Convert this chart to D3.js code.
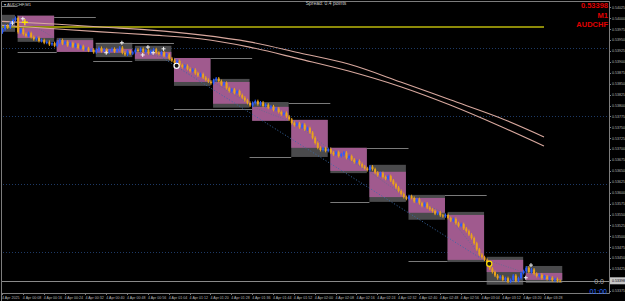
<!DOCTYPE html>
<html>
<head>
<meta charset="utf-8">
<title>AUDCHF M1</title>
<script src="https://cdn.jsdelivr.net/npm/d3@7"></script>
<style>
  body { margin: 0; background: #000; }
  svg { display: block; font-family: "Liberation Sans", "DejaVu Sans", sans-serif; }
  .axisText { fill: #b8b8b8; font-size: 3.6px; }
</style>
</head>
<body>
<svg width="625" height="301"></svg>
<script>
// ---- data ----
var firstOpen = 0.53968;
var closes = [
  0.53975, 0.53983, 0.53979, 0.53990, 0.53996, 0.54001,
  0.53968, 0.53975, 0.53964, 0.53960, 0.53966, 0.53957, 0.53952, 0.53955, 0.53948, 0.53950, 0.53944, 0.53946, 0.53940, 0.53943, 0.53937,
  0.53945, 0.53950, 0.53942, 0.53946, 0.53938, 0.53943, 0.53935, 0.53940, 0.53932, 0.53936, 0.53929, 0.53931, 0.53926, 0.53928, 0.53922,
  0.53927, 0.53932, 0.53925, 0.53929, 0.53922, 0.53926, 0.53930, 0.53924, 0.53928, 0.53933, 0.53921, 0.53917, 0.53924, 0.53919, 0.53922,
  0.53928, 0.53925, 0.53930, 0.53923, 0.53927, 0.53920, 0.53925, 0.53929, 0.53921, 0.53918, 0.53922, 0.53914, 0.53917, 0.53908, 0.53903,
  0.53898, 0.53902, 0.53893, 0.53888, 0.53891, 0.53884, 0.53879, 0.53882, 0.53874, 0.53869, 0.53872, 0.53864, 0.53859, 0.53855, 0.53851,
  0.53858, 0.53862, 0.53856, 0.53848, 0.53852, 0.53840, 0.53833, 0.53837, 0.53829, 0.53833, 0.53824, 0.53818, 0.53812, 0.53806, 0.53800,
  0.53806, 0.53810, 0.53803, 0.53807, 0.53799, 0.53802, 0.53795, 0.53798, 0.53790, 0.53793, 0.53785, 0.53780, 0.53783, 0.53775, 0.53768,
  0.53760, 0.53755, 0.53759, 0.53750, 0.53756, 0.53745, 0.53748, 0.53738, 0.53726, 0.53714, 0.53703, 0.53698, 0.53702, 0.53696, 0.53700,
  0.53692, 0.53688, 0.53693, 0.53684, 0.53688, 0.53692, 0.53680, 0.53684, 0.53676, 0.53670, 0.53673, 0.53666, 0.53660, 0.53656, 0.53652,
  0.53660, 0.53654, 0.53646, 0.53640, 0.53645, 0.53636, 0.53632, 0.53638, 0.53628, 0.53620, 0.53612, 0.53604, 0.53597, 0.53590, 0.53586,
  0.53592, 0.53588, 0.53580, 0.53585, 0.53576, 0.53570, 0.53575, 0.53566, 0.53562, 0.53558, 0.53552, 0.53555, 0.53548, 0.53546, 0.53549,
  0.53542, 0.53536, 0.53540, 0.53530, 0.53524, 0.53528, 0.53518, 0.53512, 0.53504, 0.53496, 0.53484, 0.53470, 0.53458, 0.53452, 0.53446,
  0.53440, 0.53426, 0.53418, 0.53410, 0.53404, 0.53408, 0.53400, 0.53404, 0.53396, 0.53400, 0.53410, 0.53398, 0.53404, 0.53416, 0.53420,
  0.53428, 0.53418, 0.53424, 0.53414, 0.53409, 0.53412, 0.53404, 0.53408, 0.53402, 0.53405, 0.53399, 0.53402, 0.53398, 0.53398
];
var lastPrice = 0.53398;

// session boxes (15 bars each)
var boxStart   = [-9, 6, 21, 36, 51, 66, 81, 96, 111, 126, 141, 156, 171, 186, 201];
var boxTop     = [0.54008, 0.54006, 0.53955, 0.53944, 0.53937, 0.53909, 0.53861, 0.53808, 0.53767, 0.53703, 0.53664, 0.53595, 0.53556, 0.53453, 0.53432];
var boxBottom  = [0.53969, 0.53946, 0.53923, 0.53911, 0.53902, 0.53845, 0.53795, 0.53765, 0.53682, 0.53645, 0.53579, 0.53538, 0.53441, 0.53389, 0.53393];
var pinkTop    = [null, 0.54006, 0.53950, 0.53930, 0.53923, 0.53909, 0.53854, 0.53797, 0.53767, 0.53703, 0.53648, 0.53588, 0.53549, 0.53446, 0.53416];
var pinkBottom = [null, 0.53955, 0.53923, 0.53921, 0.53907, 0.53854, 0.53804, 0.53765, 0.53703, 0.53650, 0.53590, 0.53554, 0.53446, 0.53418, 0.53400];

// gray level segments
var segFrom  = [-1, 20, 6, 36, 35, 80, 66, 95, 110, 126, 140, 156, 170];
var segTo    = [6, 36, 21, 66, 50, 96, 96, 111, 126, 141, 156, 171, 186];
var segPrice = [0.54028, 0.54003, 0.53923, 0.53944, 0.53902, 0.53909, 0.53792, 0.53682, 0.53806, 0.53579, 0.53703, 0.53443, 0.53595];

// dotted horizontal levels, yellow line, trend line
var dottedLevels = [0.53932, 0.53776, 0.53620, 0.53464];
var yellowLevel = 0.53980, yellowEnd = 208;
var trendBars = [57, 186], trendPrices = [0.53927, 0.53441];

// two moving averages
var maBars = [0, 20, 38, 57, 76, 95, 114, 133, 153, 172, 191, 208];
var maUpper = [0.53993, 0.53987, 0.53980, 0.53973, 0.53962, 0.53946, 0.53921, 0.53895, 0.53854, 0.53813, 0.53772, 0.53728];
var maLower = [0.53984, 0.53976, 0.53969, 0.53962, 0.53953, 0.53934, 0.53907, 0.53879, 0.53843, 0.53801, 0.53753, 0.53707];

// signal markers
var crossBars   = [4, 8, 40, 46, 54, 56, 58, 62, 203, 201];
var crossPrices = [0.53989, 0.53999, 0.53921, 0.53944, 0.53916, 0.53934, 0.53921, 0.53930, 0.53434, 0.53405];
var ringBars = [67, 187], ringPrices = [0.53891, 0.53437], ringColors = ["#ffffff", "#ffe000"];

// axes
var priceTicks = [0.53375, 0.53400, 0.53425, 0.53450, 0.53475, 0.53500, 0.53525, 0.53550, 0.53575,
  0.53600, 0.53625, 0.53650, 0.53675, 0.53700, 0.53725, 0.53750, 0.53775, 0.53800, 0.53825,
  0.53850, 0.53875, 0.53900, 0.53925, 0.53950, 0.53975, 0.54000, 0.54025];
var timeLabels = ["4 Apr 2025", "4 Apr 00:08", "4 Apr 00:16", "4 Apr 00:24", "4 Apr 00:32", "4 Apr 00:40",
  "4 Apr 00:48", "4 Apr 00:56", "4 Apr 01:04", "4 Apr 01:12", "4 Apr 01:20", "4 Apr 01:28", "4 Apr 01:36",
  "4 Apr 01:44", "4 Apr 01:52", "4 Apr 02:00", "4 Apr 02:08", "4 Apr 02:16", "4 Apr 02:24", "4 Apr 02:32",
  "4 Apr 02:40", "4 Apr 02:48", "4 Apr 02:56", "4 Apr 03:04", "4 Apr 03:12", "4 Apr 03:20", "4 Apr 03:28"];
var timeBars = timeLabels.map(function(d, i) { return i * 8; });

// ---- drawing ----
var svg = d3.select("svg");
var plotRight = 609, plotBottom = 293;

var x = d3.scaleLinear().domain([0, 208]).range([2, 544]);
var y = d3.scaleLinear().domain([0.53370, 0.54042]).range([plotBottom, 0]);

svg.append("rect").attr("width", 625).attr("height", 301).attr("fill", "#000");

var plot = svg.append("g");
plot.append("clipPath").attr("id", "clip")
  .append("rect").attr("x", 1).attr("y", 1).attr("width", plotRight - 1).attr("height", plotBottom - 1);
var g = plot.append("g").attr("clip-path", "url(#clip)");

// dotted horizontal levels
g.selectAll("line.dlev").data(dottedLevels).enter().append("line")
  .attr("x1", 0).attr("x2", plotRight)
  .attr("y1", function(d) { return Math.round(y(d)) + 0.5; })
  .attr("y2", function(d) { return Math.round(y(d)) + 0.5; })
  .attr("stroke", "#1e3a66").attr("stroke-dasharray", "1,2");

// boxes
var boxW = x(14) - x(0);
boxStart.forEach(function(s, i) {
  g.append("rect")
    .attr("x", x(s)).attr("y", y(boxTop[i]))
    .attr("width", boxW).attr("height", y(boxBottom[i]) - y(boxTop[i]))
    .attr("fill", "#4a4a4c");
  if (pinkTop[i] !== null) {
    g.append("rect")
      .attr("x", x(s)).attr("y", y(pinkTop[i]))
      .attr("width", boxW).attr("height", y(pinkBottom[i]) - y(pinkTop[i]))
      .attr("fill", "#a05a8e");
    g.append("line")
      .attr("x1", x(s)).attr("y1", y(pinkTop[i]))
      .attr("x2", x(s) + boxW).attr("y2", y(pinkBottom[i]))
      .attr("stroke", "#6e6890").attr("stroke-dasharray", "1,1.5");
  }
});

// gray level segments
segFrom.forEach(function(f, i) {
  var yy = Math.round(y(segPrice[i])) + 0.5;
  g.append("line").attr("x1", x(f)).attr("x2", x(segTo[i]))
    .attr("y1", yy).attr("y2", yy)
    .attr("stroke", "#7a7a7a");
});

// trend line
g.append("line")
  .attr("x1", x(trendBars[0])).attr("y1", y(trendPrices[0]))
  .attr("x2", x(trendBars[1])).attr("y2", y(trendPrices[1]))
  .attr("stroke", "#3a6aa8").attr("stroke-dasharray", "1,2");

// yellow level
g.append("line").attr("x1", 0).attr("x2", x(yellowEnd))
  .attr("y1", y(yellowLevel)).attr("y2", y(yellowLevel))
  .attr("stroke", "#8c8a08").attr("stroke-width", 2);

// moving averages
var ma = d3.line().curve(d3.curveMonotoneX)
  .x(function(d) { return x(d[0]); })
  .y(function(d) { return y(d[1]); });
g.append("path").datum(d3.zip(maBars, maUpper)).attr("d", ma)
  .attr("fill", "none").attr("stroke", "#d8a89e").attr("stroke-width", 1.1);
g.append("path").datum(d3.zip(maBars, maLower)).attr("d", ma)
  .attr("fill", "none").attr("stroke", "#d8a89e").attr("stroke-width", 1.1);

// current price line
g.append("line").attr("x1", 0).attr("x2", plotRight)
  .attr("y1", Math.round(y(lastPrice)) + 0.5).attr("y2", Math.round(y(lastPrice)) + 0.5)
  .attr("stroke", "#8a8a8a");

// candles
var candles = closes.map(function(c, i) {
  return { i: i, o: i === 0 ? firstOpen : closes[i - 1], c: c };
});
var cg = g.selectAll("g.candle").data(candles).enter().append("g");
cg.append("line")
  .attr("x1", function(d) { return x(d.i) + 0.5; })
  .attr("x2", function(d) { return x(d.i) + 0.5; })
  .attr("y1", function(d) { return y(Math.max(d.o, d.c)) - 1.5; })
  .attr("y2", function(d) { return y(Math.min(d.o, d.c)) + 1.5; })
  .attr("stroke", function(d) { return d.c > d.o ? "#2a5cff" : "#e9a21c"; });
cg.append("rect")
  .attr("x", function(d) { return x(d.i) - 0.5; })
  .attr("width", 2)
  .attr("y", function(d) { return y(Math.max(d.o, d.c)); })
  .attr("height", function(d) { return Math.max(1, Math.abs(y(d.o) - y(d.c))); })
  .attr("fill", function(d) { return d.c > d.o ? "#2a5cff" : "#e9a21c"; });

// markers
crossBars.forEach(function(b, i) {
  var cx = x(b), cy = y(crossPrices[i]);
  g.append("path").attr("d", "M" + (cx - 2) + "," + cy + "H" + (cx + 2) + "M" + cx + "," + (cy - 2) + "V" + (cy + 2))
    .attr("stroke", "#f4f4f4").attr("stroke-width", 1);
});
g.append("path").attr("d", function() {
    var cx = x(8) + 2, cy = y(0.53991);
    return "M" + (cx - 3) + "," + cy + "H" + (cx + 3) + "M" + cx + "," + (cy - 3) + "V" + (cy + 3);
  }).attr("stroke", "#ffe800").attr("stroke-width", 1.3);
ringBars.forEach(function(b, i) {
  g.append("circle").attr("cx", x(b)).attr("cy", y(ringPrices[i])).attr("r", 2.6)
    .attr("fill", "#111").attr("stroke", ringColors[i]).attr("stroke-width", 1.2);
});

// frame
svg.append("path").attr("d", "M1.5,301V1.5H" + plotRight + ".5V" + (plotBottom + 0.5) + "H1.5")
  .attr("fill", "none").attr("stroke", "#7c7c7c");

// price axis
var pa = svg.append("g");
pa.selectAll("line").data(priceTicks).enter().append("line")
  .attr("x1", plotRight).attr("x2", plotRight + 2)
  .attr("y1", function(d) { return Math.round(y(d)) + 0.5; })
  .attr("y2", function(d) { return Math.round(y(d)) + 0.5; })
  .attr("stroke", "#7c7c7c");
pa.selectAll("text").data(priceTicks).enter().append("text")
  .attr("class", "axisText")
  .attr("x", plotRight + 3).attr("y", function(d) { return y(d) + 1.3; })
  .text(function(d) { return d.toFixed(5); });
pa.append("rect").attr("x", plotRight + 1).attr("y", y(lastPrice) - 3.5)
  .attr("width", 15).attr("height", 7).attr("fill", "#c8c8c8");
pa.append("text").attr("x", plotRight + 3).attr("y", y(lastPrice) + 1.3)
  .attr("font-size", "3.6px").attr("fill", "#000").text(lastPrice.toFixed(5));

// time axis
var ta = svg.append("g");
ta.selectAll("text").data(timeBars).enter().append("text")
  .attr("class", "axisText")
  .attr("x", function(d) { return x(d); }).attr("y", 298.5)
  .text(function(d, i) { return timeLabels[i]; });
ta.selectAll("line").data(timeBars).enter().append("line")
  .attr("x1", function(d) { return Math.round(x(d)) + 0.5; })
  .attr("x2", function(d) { return Math.round(x(d)) + 0.5; })
  .attr("y1", plotBottom).attr("y2", plotBottom + 2)
  .attr("stroke", "#7c7c7c");

// header texts
svg.append("text").attr("x", 4).attr("y", 5.5).attr("fill", "#c8c8c8")
  .attr("font-size", "4.2px").text("\u25BE AUDCHF,M1");
svg.append("text").attr("x", 326).attr("y", 5).attr("fill", "#c8c8c8")
  .attr("font-size", "5px").attr("text-anchor", "middle").text("Spread: 0.4 points");
var red = [["0.53398", 8], ["M1", 17.5], ["AUDCHF", 27]];
red.forEach(function(r) {
  svg.append("text").attr("x", 608).attr("y", r[1]).attr("text-anchor", "end")
    .attr("fill", "#e00000").attr("font-weight", "bold").attr("font-size", "7.5px").text(r[0]);
});
svg.append("text").attr("x", 604).attr("y", 284).attr("text-anchor", "end")
  .attr("fill", "#a8a8a8").attr("font-size", "7px").text("0.0");
svg.append("text").attr("x", 607).attr("y", 294).attr("text-anchor", "end")
  .attr("fill", "#2a6cff").attr("font-size", "7px").text("01:00");
</script>
</body>
</html>
